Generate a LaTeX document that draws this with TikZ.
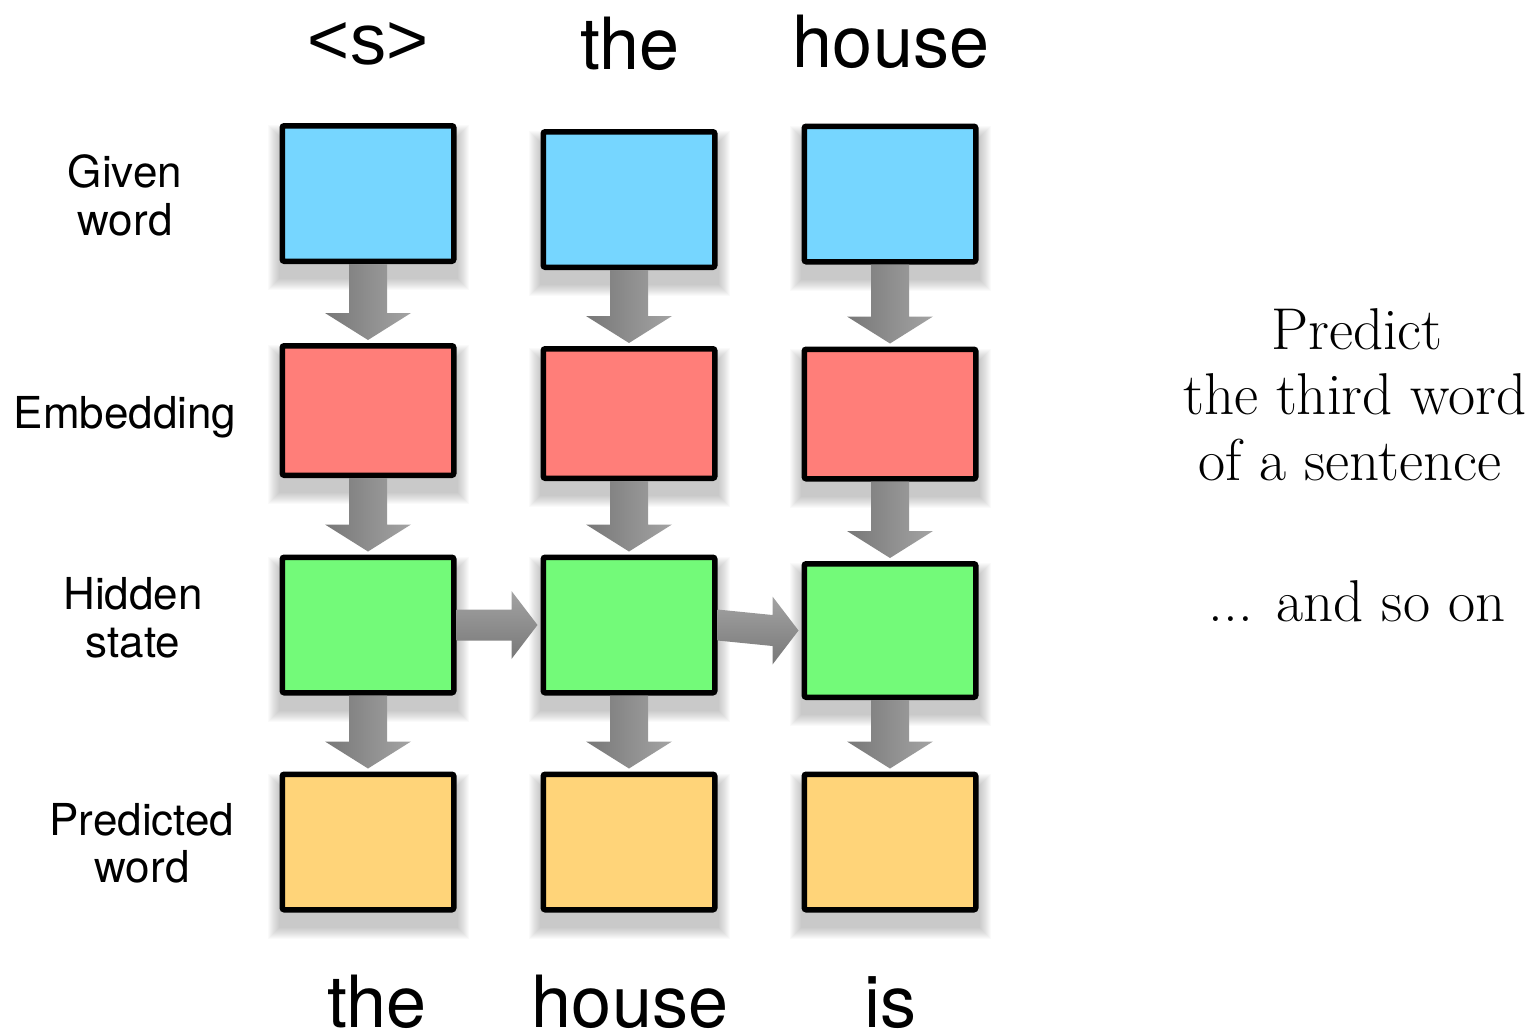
\documentclass[tikz,border=0pt]{standalone}
\usepackage{fontspec}
\newfontfamily\helv{TeX Gyre Heros}
\newfontfamily\arialish{Liberation Sans}
\usetikzlibrary{calc}
\pgfdeclarelayer{background}
\pgfsetlayers{background,main}
\definecolor{cblue}{HTML}{76D6FF}
\definecolor{cred}{HTML}{FF7E79}
\definecolor{cgreen}{HTML}{73FA79}
\definecolor{corange}{HTML}{FFD479}
\tikzset{
  cell/.style={draw=black, line width=5.5pt, rounded corners=2pt, minimum width=171.5pt, minimum height=135.5pt, inner sep=0pt},
  wordlab/.style={font=\helv\fontsize{72}{80}\selectfont, anchor=base, inner sep=0pt},
  rowlab/.style={font=\helv\fontsize{44}{48}\selectfont, anchor=base, inner sep=0pt},
  note/.style={font=\fontsize{59}{65}\selectfont, anchor=base, inner sep=0pt},
  vshade/.style={left color=black!53, right color=black!36},
  hshade/.style={top color=black!36, bottom color=black!53},
  shadowlayer/.style={fill=black, fill opacity=0.02}
}
\newcommand{\vfat}[2]{%
  \path[vshade] let \p1=(#1.south), \p2=(#2.north) in
  (\x1-19pt,\y1) -- (\x1-19pt,\y2+30pt) -- (\x1-43pt,\y2+30pt) -- (\x1,\y2+3pt)
  -- (\x1+43pt,\y2+30pt) -- (\x1+19pt,\y2+30pt) -- (\x1+19pt,\y1) -- cycle;}
\newcommand{\hfat}[2]{%
  \path[hshade] let \p1=(#1.east), \p2=(#2.west) in
  (\x1,\y1+15.5pt) -- (\x2-29pt,\y2+15.5pt) -- (\x2-29pt,\y2+34pt) -- (\x2-3pt,\y2)
  -- (\x2-29pt,\y2-34pt) -- (\x2-29pt,\y2-15.5pt) -- (\x1,\y1-15.5pt) -- cycle;}
\begin{document}
\begin{tikzpicture}[x=1pt,y=-1pt]
\useasboundingbox (0,0) rectangle (1539,1033);

% boxes
\node[cell, fill=cblue] (g1) at (368,193.5) {};
\node[cell, fill=cblue] (g2) at (629,199.5) {};
\node[cell, fill=cblue] (g3) at (890,194) {};
\node[cell, fill=cred, minimum height=129.5pt] (e1) at (368,410.5) {};
\node[cell, fill=cred, minimum height=129.5pt] (e2) at (629,413.5) {};
\node[cell, fill=cred, minimum height=129.5pt] (e3) at (890,414) {};
\node[cell, fill=cgreen] (h1) at (368,625) {};
\node[cell, fill=cgreen] (h2) at (629,625) {};
\node[cell, fill=cgreen, minimum height=133.5pt] (h3) at (890,630.5) {};
\node[cell, fill=corange] (p1) at (368,842) {};
\node[cell, fill=corange] (p2) at (629,842) {};
\node[cell, fill=corange] (p3) at (890,842) {};

% shadows
\begin{pgfonlayer}{background}
\foreach \n in {g1,g2,g3,e1,e2,e3,h1,h2,h3,p1,p2,p3}{
  \foreach \i in {1,...,12}{
    \fill[shadowlayer] ([shift={(-\i pt,-14pt-\i pt)}]\n.south west) rectangle ([shift={(\i pt,-14pt+\i pt)}]\n.north east);
  }
}
\end{pgfonlayer}

% vertical arrows
\vfat{g1}{e1} \vfat{g2}{e2} \vfat{g3}{e3}
\vfat{e1}{h1} \vfat{e2}{h2} \vfat{e3}{h3}
\vfat{h1}{p1} \vfat{h2}{p2} \vfat{h3}{p3}
% horizontal arrows
\hfat{h1}{h2} \hfat{h2}{h3}

% top words
\node[wordlab, font=\arialish\fontsize{72}{80}\selectfont] (in1) at (368,64) {<s>};
\node[wordlab] (in2) at (630,70) {the};
\node[wordlab] (in3) at (891,67) {house};
% bottom words
\node[wordlab, text depth=0pt] (out1) at (377,1027) {the};
\node[wordlab, text depth=0pt] (out2) at (630,1027) {house};
\node[wordlab, text depth=0pt] (out3) at (890,1027) {is};

% row labels
\node[rowlab] (l1a) at (125,187) {Given};
\node[rowlab] (l1b) at (125,235) {word};
\node[rowlab] (l2) at (125,428) {Embedding};
\node[rowlab] (l3a) at (133,609) {Hidden};
\node[rowlab] (l3b) at (133,657) {state};
\node[rowlab] (l4a) at (142,835) {Predicted};
\node[rowlab] (l4b) at (142,882) {word};

% right notes
\node[note] (n1) at (1357,349) {Predict};
\node[note] (n2) at (1355,414) {the third word};
\node[note] (n3) at (1350,480) {of a sentence};
\node[note] (n4) at (1357,621) {... and so on};
\end{tikzpicture}
\end{document}
